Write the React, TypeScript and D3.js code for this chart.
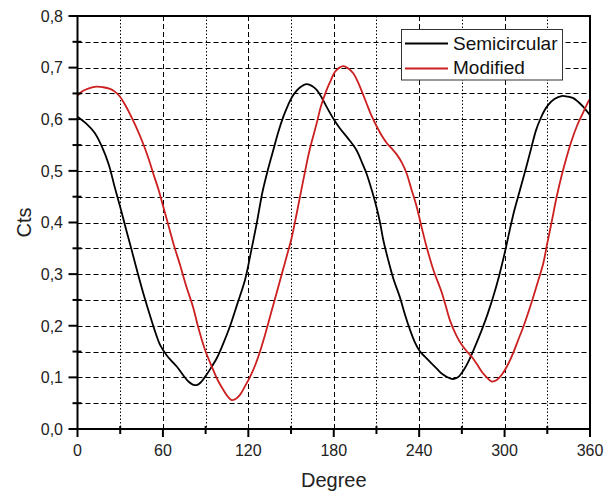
import React from "react";
import * as d3 from "d3";

const xTicks = [0, 60, 120, 180, 240, 300, 360];
const xMinorTicks = [30, 90, 150, 210, 270, 330];
const yTicks = [0, 0.1, 0.2, 0.3, 0.4, 0.5, 0.6, 0.7, 0.8];
const yMinorTicks = [0.05, 0.15, 0.25, 0.35, 0.45, 0.55, 0.65, 0.75];
const seriesNames = ["Semicircular", "Modified"];
const seriesColors = ["#000000", "#cc1f1f"];

const semicircular: [number, number][] = [
  [0, 0.605], [6, 0.592], [12, 0.574], [17, 0.548], [22, 0.512], [26, 0.47], [30, 0.43],
  [34, 0.388], [38, 0.347], [42, 0.305], [46, 0.265], [50, 0.228], [54, 0.193], [58, 0.163],
  [62.6, 0.143], [66, 0.132], [69.7, 0.121], [74, 0.105], [77.9, 0.092], [81, 0.086],
  [83.7, 0.085], [86.5, 0.09], [89.6, 0.101], [93, 0.115], [97.8, 0.137], [102, 0.163],
  [107, 0.198], [112, 0.24], [117.7, 0.289], [122, 0.345], [126, 0.4], [130, 0.46],
  [134, 0.505], [137.5, 0.54], [141, 0.575], [144.6, 0.605], [148, 0.628], [151.6, 0.647],
  [156, 0.661], [161, 0.668], [165, 0.664], [168, 0.657], [171.5, 0.642], [175, 0.624],
  [180, 0.6], [184.4, 0.582], [190, 0.563], [196, 0.54], [200, 0.515], [203, 0.495],
  [207, 0.46], [210, 0.43], [212.5, 0.4], [214.8, 0.366], [218, 0.33], [222, 0.29],
  [226.5, 0.255], [230, 0.222], [233.6, 0.192], [237, 0.168], [240.6, 0.15], [244, 0.14],
  [247.6, 0.13], [252, 0.118], [256, 0.107], [261.7, 0.098], [264.5, 0.097], [267.5, 0.101],
  [271, 0.113], [274.5, 0.13], [279, 0.158], [284, 0.192], [288, 0.222], [292, 0.256],
  [296, 0.295], [300, 0.34], [304, 0.39], [307, 0.425], [310.8, 0.463], [315, 0.505],
  [319, 0.547], [322, 0.578], [324.9, 0.599], [328, 0.617], [330.7, 0.628], [335, 0.639],
  [340, 0.645], [344, 0.644], [348.3, 0.641], [352, 0.633], [355.3, 0.624], [360, 0.608],
];

const modified: [number, number][] = [
  [0, 0.646], [4, 0.655], [8, 0.66], [13.5, 0.663], [18, 0.662], [22.8, 0.659], [26, 0.654],
  [29.5, 0.645], [33, 0.63], [36.9, 0.61], [41, 0.586], [46.2, 0.552], [50, 0.523],
  [53.2, 0.495], [57, 0.463], [60.3, 0.43], [64, 0.393], [67.3, 0.36], [72, 0.318],
  [76, 0.28], [81.3, 0.235], [85, 0.195], [89.6, 0.153], [95.4, 0.114], [99, 0.092],
  [102.4, 0.076], [105.5, 0.063], [108.3, 0.056], [111, 0.058], [114.1, 0.066],
  [117.5, 0.082], [121.2, 0.101], [125, 0.125], [128.2, 0.15], [132, 0.185], [136, 0.225],
  [140, 0.265], [144, 0.305], [147, 0.335], [150.4, 0.37], [154, 0.418], [158.6, 0.482],
  [163, 0.54], [168, 0.592], [171, 0.625], [175, 0.657], [178, 0.676], [180.9, 0.692],
  [184, 0.7], [186.7, 0.703], [190, 0.699], [193.7, 0.689], [197, 0.672], [200, 0.652],
  [203, 0.631], [206.5, 0.607], [210.2, 0.586], [214, 0.567], [217.2, 0.554], [220.5, 0.544],
  [224.2, 0.532], [228, 0.515], [231.2, 0.495], [234.5, 0.465], [238.3, 0.43], [241.8, 0.39],
  [245, 0.355], [250, 0.308], [255.8, 0.265], [258.5, 0.24], [261.7, 0.21], [266, 0.182],
  [269.9, 0.163], [273, 0.152], [276.9, 0.14], [280.5, 0.126], [284, 0.111], [287.5, 0.1],
  [291, 0.092], [294.5, 0.095], [298, 0.105], [302, 0.123], [306, 0.147], [309.5, 0.172],
  [313.2, 0.198], [316.7, 0.226], [320.2, 0.256], [323.7, 0.288], [327.2, 0.321],
  [330, 0.36], [333, 0.4], [336.6, 0.45], [340, 0.49], [343.6, 0.527], [347, 0.558],
  [350.7, 0.586], [355, 0.612], [358.8, 0.634], [360, 0.64],
];

const seriesData = [semicircular, modified];

const W = 615;
const H = 495;
const left = 77.5;
const right = 590;
const top = 16;
const bottom = 429;
const FONT = "'Liberation Sans', Arial, Helvetica, sans-serif";

export default function App() {
  const x = d3.scaleLinear().domain([0, 360]).range([left, right]);
  const y = d3.scaleLinear().domain([0, 0.8]).range([bottom, top]);
  const line = d3
    .line<[number, number]>()
    .x((d) => x(d[0]))
    .y((d) => y(d[1]))
    .curve(d3.curveCatmullRom.alpha(0.5));

  const fmt = (v: number) => v.toFixed(1).replace(".", ",");

  return (
    <svg
      width={W}
      height={H}
      style={{ position: "absolute", left: 0, top: 0, background: "#fff" }}
      fontFamily={FONT}
    >
      <rect x={0} y={0} width={W} height={H} fill="#fff" />
      {/* horizontal grid */}
      {yMinorTicks.concat(yTicks.slice(1, -1)).map((v) => (
        <line
          key={"hg" + v}
          x1={left}
          x2={right}
          y1={Math.round(y(v)) + 0.5}
          y2={Math.round(y(v)) + 0.5}
          stroke="#000"
          strokeWidth={1}
          strokeDasharray="5,3"
        />
      ))}
      {/* vertical grid major */}
      {xTicks.slice(1, -1).map((v) => (
        <line
          key={"vg" + v}
          x1={Math.round(x(v)) + 0.5}
          x2={Math.round(x(v)) + 0.5}
          y1={top}
          y2={bottom}
          stroke="#000"
          strokeWidth={1}
          strokeDasharray="5,3"
        />
      ))}
      {xMinorTicks.map((v) => (
        <line
          key={"vm" + v}
          x1={Math.round(x(v)) + 0.5}
          x2={Math.round(x(v)) + 0.5}
          y1={top}
          y2={bottom}
          stroke="#000"
          strokeWidth={1}
          strokeDasharray="1.5,2"
        />
      ))}

      {/* curves */}
      {seriesData.map((s, i) => (
        <path
          key={"s" + i}
          d={line(s) || ""}
          fill="none"
          stroke={seriesColors[i]}
          strokeWidth={1.8}
          strokeLinejoin="round"
        />
      ))}

      {/* frame */}
      <rect
        x={left}
        y={top}
        width={right - left}
        height={bottom - top}
        fill="none"
        stroke="#000"
        strokeWidth={2}
      />

      {/* y ticks */}
      {yTicks.map((v) => (
        <g key={"yt" + v}>
          <line x1={left - 9} x2={left} y1={y(v)} y2={y(v)} stroke="#000" strokeWidth={2} />
          <text
            x={63}
            y={y(v)}
            dy="0.36em"
            textAnchor="end"
            fontSize={16}
            fill="#222"
          >
            {fmt(v)}
          </text>
        </g>
      ))}
      {yMinorTicks.map((v) => (
        <line
          key={"ym" + v}
          x1={left - 5}
          x2={left + 4}
          y1={y(v)}
          y2={y(v)}
          stroke="#000"
          strokeWidth={2}
        />
      ))}

      {/* x ticks */}
      {xTicks.map((v) => (
        <g key={"xt" + v}>
          <line x1={x(v)} x2={x(v)} y1={bottom} y2={bottom + 8} stroke="#000" strokeWidth={2} />
          <text x={x(v)} y={456} textAnchor="middle" fontSize={16} fill="#222">
            {v}
          </text>
        </g>
      ))}
      {xMinorTicks.map((v) => (
        <line
          key={"xm" + v}
          x1={x(v)}
          x2={x(v)}
          y1={bottom - 3}
          y2={bottom + 5}
          stroke="#000"
          strokeWidth={2}
        />
      ))}

      {/* axis titles */}
      <text x={(left + right) / 2} y={487} textAnchor="middle" fontSize={20} fill="#222">
        Degree
      </text>
      <text
        transform={`translate(31,${(top + bottom) / 2}) rotate(-90)`}
        textAnchor="middle"
        fontSize={20}
        fill="#222"
      >
        Cts
      </text>

      {/* legend */}
      <rect x={401.5} y={29.5} width={161} height={50.5} fill="#fff" stroke="#333" strokeWidth={1} />
      {seriesNames.map((n, i) => (
        <g key={"lg" + i}>
          <line
            x1={405}
            x2={448}
            y1={43.5 + i * 25}
            y2={43.5 + i * 25}
            stroke={seriesColors[i]}
            strokeWidth={1.8}
          />
          <text x={453} y={49.5 + i * 24.5} fontSize={19} fill="#111">
            {n}
          </text>
        </g>
      ))}
    </svg>
  );
}
